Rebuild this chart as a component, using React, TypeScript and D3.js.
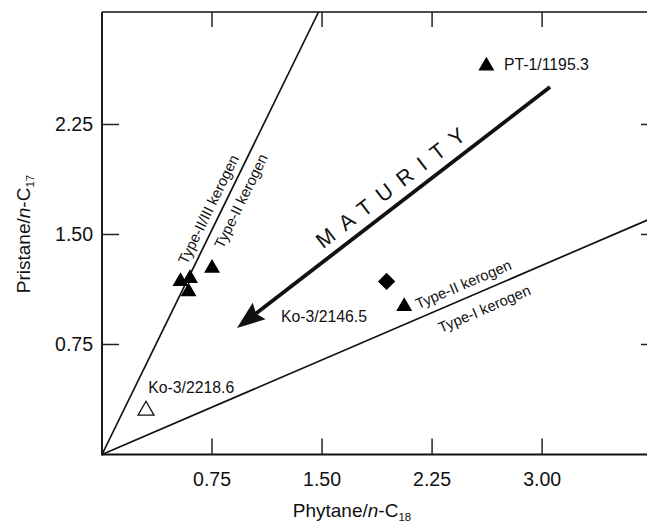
import React from "react";
import * as d3 from "d3";

// Axis extents and tick values (pristane/n-C17 vs phytane/n-C18)
const X_MAX = 3.79;
const Y_MAX = 3.017;
const xTicks = [0.75, 1.5, 2.25, 3.0];
const yTicks = [0.75, 1.5, 2.25];

// Sample points
const filledX = [2.62, 0.535, 0.6, 0.59, 0.75, 2.06];
const filledY = [2.65, 1.18, 1.2, 1.11, 1.27, 1.01];
const diamondX = [1.94];
const diamondY = [1.18];
const openX = [0.3];
const openY = [0.3];

// Sample annotations: text and anchor point (data units)
const sampleLabels = ["PT-1/1195.3", "Ko-3/2146.5", "Ko-3/2218.6"];
const sampleLabelX = [2.74, 1.22, 0.315];
const sampleLabelY = [2.62, 0.9, 0.42];

// Kerogen boundary lines through the origin (pristane/n-C17 = slope * phytane/n-C18)
const boundarySlopes = [2.044, 0.43];

// Kerogen labels along the boundaries: line index, position along line (x), side offset (px, + = above/left)
const kerogenLabels = ["Type-II/III kerogen", "Type-II kerogen", "Type-II kerogen", "Type-I kerogen"];
const kerogenLine = [0, 0, 1, 1];
const kerogenAt = [0.8, 0.865, 2.5, 2.56];
const kerogenOffset = [12, -13.5, 13.6, -17.3];

// Maturity trend arrow (tail -> head)
const arrowFrom = [3.054, 2.505];
const arrowTo = [0.92, 0.862];

const W = 647;
const H = 527;
const FONT = "'Liberation Sans', Arial, Helvetica, sans-serif";

export default function App() {
  const x = d3.scaleLinear().domain([0, X_MAX]).range([102, 658]);
  const y = d3.scaleLinear().domain([0, Y_MAX]).range([454.5, 12]);
  const x0 = x(0), x1 = x(X_MAX), y0 = y(0), y1 = y(Y_MAX);

  const tri = d3.symbol().type(d3.symbolTriangle).size(110)();
  const sq = d3.symbol().type(d3.symbolSquare).size(150)();

  // boundary line segments clipped to the plot frame
  const boundaries = boundarySlopes.map((s) => {
    const xe = Math.min(X_MAX, Y_MAX / s);
    return { x1: x(0), y1: y(0), x2: x(xe), y2: y(s * xe) };
  });

  const kerogen = kerogenLabels.map((t, i) => {
    const s = boundarySlopes[kerogenLine[i]];
    const px = x(kerogenAt[i]);
    const py = y(s * kerogenAt[i]);
    const ang = Math.atan2(y(s) - y(0), x(1) - x(0)); // negative (upward)
    const nx = Math.sin(ang); // normal pointing up/left
    const ny = -Math.cos(ang);
    const off = kerogenOffset[i];
    return {
      t,
      cx: px + nx * off,
      cy: py + ny * off,
      deg: (ang * 180) / Math.PI,
    };
  });

  // arrow geometry
  const ax1 = x(arrowFrom[0]), ay1 = y(arrowFrom[1]);
  const ax2 = x(arrowTo[0]), ay2 = y(arrowTo[1]);
  const aAng = Math.atan2(ay2 - ay1, ax2 - ax1);
  const headLen = 28;
  const headHalf = 10.5;
  const ux = Math.cos(aAng), uy = Math.sin(aAng);
  const bx = ax2 - ux * headLen, by = ay2 - uy * headLen;
  const notchX = ax2 - ux * (headLen - 4), notchY = ay2 - uy * (headLen - 4);
  const head = [
    [ax2, ay2],
    [bx - uy * headHalf, by + ux * headHalf],
    [notchX, notchY],
    [bx + uy * headHalf, by - ux * headHalf],
  ];
  const maturityAng = (Math.atan2(ay1 - ay2, ax1 - ax2) * 180) / Math.PI;
  const mcx = 395, mcy = 185;

  return (
    <svg width={W} height={H} style={{ display: "block", position: "absolute", left: 0, top: 0 }} fontFamily={FONT}>
      <rect width={W} height={H} fill="#fff" />

      {/* frame */}
      <line x1={x0} y1={y1} x2={x1} y2={y1} stroke="#111" strokeWidth={1.7} />
      <line x1={x0} y1={y1} x2={x0} y2={y0 + 1} stroke="#111" strokeWidth={1.9} />
      <line x1={x0} y1={y0} x2={x1} y2={y0} stroke="#111" strokeWidth={2.1} />
      <line x1={x1} y1={y1} x2={x1} y2={y0} stroke="#111" strokeWidth={1.7} />

      {/* ticks */}
      {xTicks.map((t) => (
        <g key={"xt" + t}>
          <line x1={x(t)} x2={x(t)} y1={y0} y2={y0 - 16} stroke="#222" strokeWidth={1.5} />
          <line x1={x(t)} x2={x(t)} y1={y1} y2={y1 + 15} stroke="#222" strokeWidth={1.5} />
          <text x={x(t)} y={y0 + 31} textAnchor="middle" fontSize={19.5} fill="#111">
            {t.toFixed(2)}
          </text>
        </g>
      ))}
      {yTicks.map((t) => (
        <g key={"yt" + t}>
          <line x1={x0} x2={x0 + 17} y1={y(t)} y2={y(t)} stroke="#222" strokeWidth={1.5} />
          <line x1={x1} x2={x1 - 17} y1={y(t)} y2={y(t)} stroke="#222" strokeWidth={1.5} />
          <text x={x0 - 9} y={y(t) + 7} textAnchor="end" fontSize={19.5} fill="#111">
            {t.toFixed(2)}
          </text>
        </g>
      ))}

      {/* axis titles */}
      <text x={352} y={517} textAnchor="middle" fontSize={19} fill="#111">
        Phytane/<tspan fontStyle="italic">n</tspan>-C<tspan fontSize={11.5} dy={4}>18</tspan>
      </text>
      <text transform={`translate(30,234) rotate(-90)`} textAnchor="middle" fontSize={19} fill="#111">
        Pristane/<tspan fontStyle="italic">n</tspan>-C<tspan fontSize={11.5} dy={4}>17</tspan>
      </text>

      {/* kerogen boundaries */}
      {boundaries.map((b, i) => (
        <line key={"b" + i} x1={b.x1} y1={b.y1} x2={b.x2} y2={b.y2} stroke="#111" strokeWidth={1.7} />
      ))}
      {kerogen.map((k, i) => (
        <text
          key={"k" + i}
          transform={`translate(${k.cx},${k.cy}) rotate(${k.deg})`}
          textAnchor="middle"
          dominantBaseline="central"
          fontSize={14.8}
          fill="#111"
        >
          {k.t}
        </text>
      ))}

      {/* maturity arrow */}
      <line x1={ax1} y1={ay1} x2={notchX} y2={notchY} stroke="#111" strokeWidth={3.8} />
      <polygon points={head.map((p) => p.join(",")).join(" ")} fill="#111" />
      <text
        transform={`translate(${mcx},${mcy}) rotate(${maturityAng})`}
        textAnchor="middle"
        dominantBaseline="central"
        fontSize={21.5}
        letterSpacing={10.5}
        fill="#111"
      >
        MATURITY
      </text>

      {/* samples */}
      {filledX.map((v, i) => (
        <path key={"f" + i} d={tri} transform={`translate(${x(v)},${y(filledY[i])})`} fill="#000" />
      ))}
      {diamondX.map((v, i) => (
        <path key={"d" + i} d={sq} transform={`translate(${x(v)},${y(diamondY[i])}) rotate(45)`} fill="#000" />
      ))}
      {openX.map((v, i) => (
        <path
          key={"o" + i}
          d={tri}
          transform={`translate(${x(v)},${y(openY[i])})`}
          fill="#fff"
          stroke="#111"
          strokeWidth={1.3}
        />
      ))}
      {sampleLabels.map((t, i) => (
        <text key={"s" + i} x={x(sampleLabelX[i])} y={y(sampleLabelY[i])} fontSize={15.8} fill="#111">
          {t}
        </text>
      ))}
    </svg>
  );
}
